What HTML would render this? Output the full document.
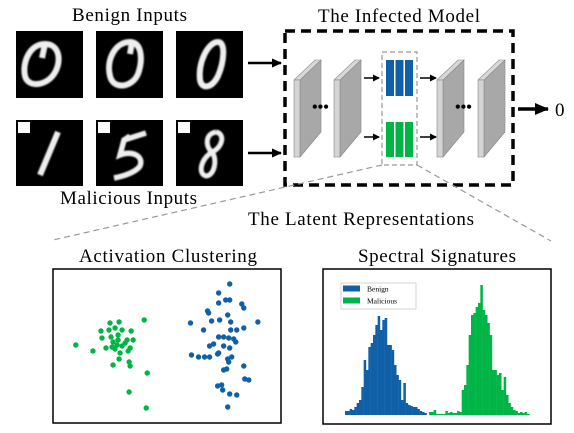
<!DOCTYPE html>
<html><head><meta charset="utf-8"><style>
html,body{margin:0;padding:0;background:#fff;}
svg{display:block;font-family:"Liberation Serif",serif;}
</style></head><body>
<svg id="fig" width="574" height="433" viewBox="0 0 574 433">
<defs>
<filter id="soft" x="-20%" y="-20%" width="140%" height="140%"><feGaussianBlur stdDeviation="0.9"/></filter>
<marker id="ah" markerUnits="userSpaceOnUse" markerWidth="10" markerHeight="10" refX="9" refY="5" orient="auto"><path d="M0,0.5 L10,5 L0,9.5 z" fill="#000"/></marker>
<marker id="ahs" markerUnits="userSpaceOnUse" markerWidth="7" markerHeight="7" refX="6" refY="3.5" orient="auto"><path d="M0,0 L7,3.5 L0,7 z" fill="#000"/></marker>
<marker id="ahb" markerUnits="userSpaceOnUse" markerWidth="14" markerHeight="14" refX="13" refY="7" orient="auto"><path d="M0,1 L14,7 L0,13 z" fill="#000"/></marker>
</defs>

<text x="72" y="21" font-size="19" textLength="115">Benign Inputs</text>
<text x="60" y="204" font-size="19" textLength="137">Malicious Inputs</text>
<text x="318" y="22" font-size="19" textLength="162">The Infected Model</text>
<text x="248" y="225" font-size="19" textLength="226">The Latent Representations</text>
<text x="79" y="262" font-size="19" textLength="178">Activation Clustering</text>
<text x="358" y="262" font-size="19" textLength="158">Spectral Signatures</text>

<!-- digit images -->
<g><rect x="16" y="31" width="67" height="67" fill="#000"/>
<path d="M45,44 C30,44 22,62 25,76 C28,88 46,86 54,74 C62,62 60,44 45,44 M45,44 L42,58" stroke="#eee" stroke-width="6" fill="none" filter="url(#soft)"/></g>
<g><rect x="96" y="31" width="67" height="67" fill="#000"/>
<path d="M130,42 C115,42 106,60 110,76 C113,90 132,88 138,74 C143,60 142,42 130,42 M132,42 L130,54" stroke="#eee" stroke-width="6" fill="none" filter="url(#soft)"/></g>
<g><rect x="176" y="31" width="67" height="67" fill="#000"/>
<path d="M218,42 C208,42 198,62 200,80 C202,90 212,88 218,76 C224,62 226,42 218,42" stroke="#eee" stroke-width="6" fill="none" filter="url(#soft)"/></g>
<g><rect x="16" y="120" width="67" height="66" fill="#000"/><rect x="18" y="122" width="12" height="11" fill="#fff"/>
<path d="M58,132 L40,175" stroke="#eee" stroke-width="6" fill="none" filter="url(#soft)"/></g>
<g><rect x="96" y="120" width="67" height="66" fill="#000"/><rect x="98" y="122" width="12" height="11" fill="#fff"/>
<path d="M146,133 L124,140 L120,155 C132,150 144,156 140,166 C136,172 124,176 114,178 M124,140 L130,136" stroke="#eee" stroke-width="5.5" fill="none" filter="url(#soft)"/></g>
<g><rect x="176" y="120" width="67" height="66" fill="#000"/><rect x="178" y="122" width="12" height="11" fill="#fff"/>
<path d="M216,132 C204,134 206,148 212,152 C222,148 226,134 216,132 M212,152 C200,160 198,174 206,176 C214,176 218,160 212,152" stroke="#eee" stroke-width="5" fill="none" filter="url(#soft)"/></g>

<line x1="248" y1="63" x2="281" y2="63" stroke="#000" stroke-width="2.5" marker-end="url(#ah)"/>
<line x1="248" y1="153" x2="281" y2="153" stroke="#000" stroke-width="2.5" marker-end="url(#ah)"/>

<!-- model box -->
<rect x="285" y="31" width="228" height="154" fill="none" stroke="#000" stroke-width="3.5" stroke-dasharray="10,6"/>
<g id="plates"></g>
<text x="312" y="112" font-size="16" font-weight="bold">•••</text>
<text x="455" y="112" font-size="16" font-weight="bold">•••</text>
<line x1="364" y1="78" x2="379" y2="78" stroke="#000" stroke-width="1.5" marker-end="url(#ahs)"/>
<line x1="364" y1="137" x2="379" y2="137" stroke="#000" stroke-width="1.5" marker-end="url(#ahs)"/>
<line x1="420" y1="78" x2="436" y2="78" stroke="#000" stroke-width="1.5" marker-end="url(#ahs)"/>
<line x1="420" y1="137" x2="436" y2="137" stroke="#000" stroke-width="1.5" marker-end="url(#ahs)"/>
<rect x="382" y="52" width="35" height="113" fill="none" stroke="#999" stroke-width="1.2" stroke-dasharray="5,3"/>
<g>
<rect x="386" y="60" width="8" height="36" fill="#1060a8"/><rect x="395.5" y="60" width="8" height="36" fill="#1060a8"/><rect x="405" y="60" width="8" height="36" fill="#1060a8"/></g>
<g>
<rect x="386" y="122" width="8" height="35" fill="#00b545"/><rect x="395.5" y="122" width="8" height="35" fill="#00b545"/><rect x="405" y="122" width="8" height="35" fill="#00b545"/></g>
<line x1="518" y1="109" x2="548" y2="109" stroke="#000" stroke-width="3.5" marker-end="url(#ahb)"/>
<text x="555" y="116" font-size="19">0</text>
<line x1="382" y1="165" x2="53" y2="240" stroke="#999" stroke-width="1.2" stroke-dasharray="6,4"/>
<line x1="417" y1="165" x2="551" y2="241" stroke="#999" stroke-width="1.2" stroke-dasharray="6,4"/>

<!-- panels -->
<rect x="53" y="269" width="228" height="154" fill="#fff" stroke="#000" stroke-width="1.5"/>
<g id="scatter"></g>
<rect x="323" y="269" width="228" height="155" fill="#fff" stroke="#000" stroke-width="1.5"/>
<g id="hist"></g>
<g>
<rect x="341" y="283" width="75" height="26" fill="#fff" stroke="#ccc" stroke-width="0.8"/>
<rect x="343" y="285.5" width="17" height="6" fill="#1060a8"/>
<text x="367" y="291.5" font-size="7.5">Benign</text>
<rect x="343" y="297.5" width="17" height="6" fill="#00b545"/>
<text x="367" y="303.5" font-size="7.5">Malicious</text>
</g>
</svg>
<script>
// scatter data (plot units: x 0..230 left->right, y 0..155 bottom->top)
const greenX=[94,60,69,51,59,65,72,81,52,61,68,77,83,26,43,56,63,67,72,80,65,70,78,69,63,79,80,97,79,96,75,62,68];
const greenY=[103,100,101,92,93,95,93,92,85,86,88,83,83,78,72,75,81,78,77,75,74,70,72,64,58,61,57,50,31,15,80,76,83];
const blueX=[179,168,175,179,168,191,193,157,158,177,161,169,180,207,140,153,180,186,193,168,173,178,183,185,163,159,173,179,141,148,154,159,167,168,177,181,178,193,173,176,194,198,167,171,172,179,186,177];
const blueY=[139,130,123,123,120,119,115,112,110,108,102,103,101,101,100,93,93,93,95,86,86,85,84,81,79,77,77,75,68,66,66,66,69,70,64,66,61,57,53,54,44,43,37,38,33,29,28,16];
// histogram data: bin heights
const benignBins=[4,4,6,5,8,12,15,28,55,45,68,72,80,90,99,85,95,97,70,70,65,50,40,35,15,32,12,10,9,8,8,6,4,3,2];
const maliciousBins=[0,3,3,5,1,1,1,1,4,2,3,2,2,4,3,25,30,50,80,100,102,108,112,130,105,100,92,80,45,45,40,42,25,38,20,12,8,5,4,2,3,2,3,1];
const NS='http://www.w3.org/2000/svg';
function mk(tag,attrs,parent){const e=document.createElementNS(NS,tag);for(const k in attrs)e.setAttribute(k,attrs[k]);parent.appendChild(e);return e;}
// scatter scales
const sx=v=>53+(v-3.3)*(228/226.7);
const sy=v=>423-(v-0)*(154/154);
const sc=document.getElementById('scatter');
greenX.forEach((x,i)=>{const c=mk('circle',{cx:sx(x),cy:sy(greenY[i]),r:2.7,fill:'#00b545'},sc);

});
blueX.forEach((x,i)=>{const c=mk('circle',{cx:sx(x),cy:sy(blueY[i]),r:2.7,fill:'#1060a8'},sc);

});
// histogram scales
const binW=7/3;
const hx=i=>345+i*binW;
const hy=v=>415-v;
const hg=document.getElementById('hist');
benignBins.forEach((v,i)=>{if(v<=0)return;const r=mk('rect',{x:hx(i),y:hy(v),width:binW+0.2,height:v,fill:'#1060a8'},hg);

});
maliciousBins.forEach((v,i)=>{if(v<=0)return;const r=mk('rect',{x:hx(i+benignBins.length),y:hy(v),width:binW+0.2,height:v,fill:'#00b545'},hg);

});
// plates
const plateX=[294,334,437,478];
const pg=document.getElementById('plates');
plateX.forEach(x0=>{
 const g=mk('g',{},pg);
 
 
 mk('polygon',{points:`${x0+6},80 ${x0+27},60 ${x0+27},132 ${x0+6},157`,fill:'#a8a8a8',stroke:'#888','stroke-width':0.6},g);
 mk('polygon',{points:`${x0},80 ${x0+21},60 ${x0+27},60 ${x0+6},80`,fill:'#d8d8d8',stroke:'#888','stroke-width':0.6},g);
 mk('rect',{x:x0,y:80,width:6,height:77,fill:'#d4d4d4',stroke:'#888','stroke-width':0.6},g);
});
</script>
</body></html>
